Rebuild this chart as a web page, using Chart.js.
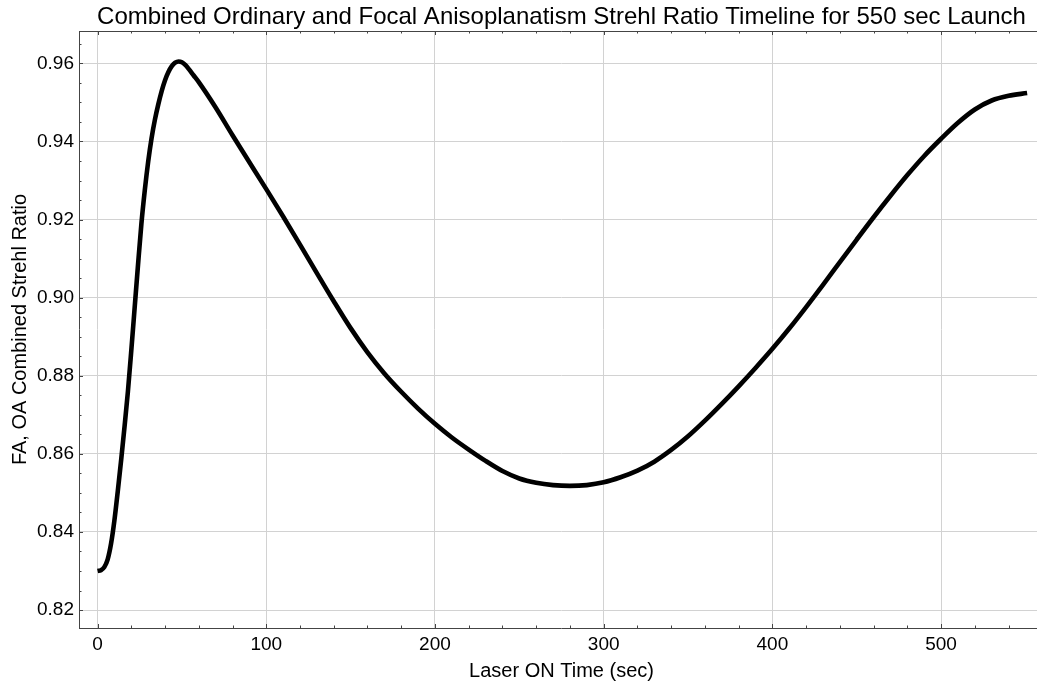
<!DOCTYPE html>
<html>
<head>
<meta charset="utf-8">
<script src="https://cdn.jsdelivr.net/npm/chart.js@4.4.0/dist/chart.umd.min.js"></script>
<style>
  html, body { margin: 0; padding: 0; background: #fff; overflow: hidden; }
  #wrap { width: 1044px; height: 683px; position: relative; }
  canvas { display: block; }
</style>
</head>
<body>
<div id="wrap"><canvas id="c" width="1044" height="683"></canvas></div>
<script>
// ---- Data ----
const titleText = "Combined Ordinary and Focal Anisoplanatism Strehl Ratio Timeline for 550 sec Launch";
const xAxisTitle = "Laser ON Time (sec)";
const yAxisTitle = "FA, OA Combined Strehl Ratio";

const timeSec = [0, 2, 4, 6, 8, 10, 12, 14, 16, 18, 20, 22, 24, 26, 28, 30, 32, 34, 36, 38, 40, 42, 44, 46, 48, 50, 52, 54, 57,
  60, 70, 80, 90, 100, 110, 120, 130, 140, 150, 160, 170, 180, 190, 200, 210, 220, 230, 240, 250, 260, 270, 280, 290, 300,
  310, 320, 330, 340, 350, 360, 370, 380, 390, 400, 410, 420, 430, 440, 450, 460, 470, 480, 490, 500, 510, 520, 530, 540, 551];
const strehl = [0.8300, 0.8302, 0.8310, 0.8330, 0.8370, 0.8430, 0.8505, 0.8585, 0.8670, 0.8760, 0.8865, 0.8975, 0.9085, 0.9190, 0.9275, 0.9348, 0.9408, 0.9456, 0.9495, 0.9529, 0.9557, 0.9578, 0.9593, 0.9602, 0.9605, 0.9603, 0.9596, 0.9586, 0.9569,
  0.9552, 0.9487, 0.9416, 0.9347, 0.9278, 0.9208, 0.9136, 0.9063, 0.8991, 0.8922, 0.8860, 0.8806, 0.8759, 0.8716, 0.8677, 0.8642, 0.8611, 0.8582, 0.8556, 0.8537, 0.8526, 0.8520, 0.8518, 0.8520, 0.8527,
  0.8540, 0.8557, 0.8580, 0.8610, 0.8645, 0.8685, 0.8728, 0.8773, 0.8820, 0.8869, 0.8921, 0.8976, 0.9033, 0.9091, 0.9149, 0.9206, 0.9261, 0.9314, 0.9363, 0.9407, 0.9448, 0.9482, 0.9505, 0.9517, 0.9524];

const xTicks = [0, 100, 200, 300, 400, 500];
const xMinorTicks = [20, 40, 60, 80, 120, 140, 160, 180, 220, 240, 260, 280, 320, 340, 360, 380, 420, 440, 460, 480, 520, 540];
const yTicks = [0.82, 0.84, 0.86, 0.88, 0.90, 0.92, 0.94, 0.96];
const yMinorStep = 0.005;
const xRange = [-11, 561];
const yRange = [0.8154, 0.9683];

// ---- Styling ----
const FONT = "'Liberation Sans', Arial, Helvetica, sans-serif";
const frameColor = '#444';
const gridColor = '#d2d2d2';

const points = timeSec.map((t, i) => ({ x: t, y: strehl[i] }));

const framePlugin = {
  id: 'frame',
  afterDraw(chart) {
    const ctx = chart.ctx;
    const a = chart.chartArea;
    const xs = chart.scales.x, ys = chart.scales.y;
    ctx.save();
    ctx.strokeStyle = frameColor;
    ctx.lineWidth = 1;
    ctx.beginPath();
    ctx.moveTo(a.left + 0.5, a.top);
    ctx.lineTo(a.left + 0.5, a.bottom);
    ctx.moveTo(a.left, a.bottom + 0.5);
    ctx.lineTo(a.right, a.bottom + 0.5);
    ctx.moveTo(a.left, a.top + 0.5);
    ctx.lineTo(a.right, a.top + 0.5);
    ctx.stroke();
    const majorLen = 4, minorLen = 2.5;
    ctx.beginPath();
    const xt = (v, len) => {
      const px = Math.round(xs.getPixelForValue(v)) + 0.5;
      ctx.moveTo(px, a.bottom); ctx.lineTo(px, a.bottom - len);
      ctx.moveTo(px, a.top); ctx.lineTo(px, a.top + len);
    };
    xTicks.forEach(v => xt(v, majorLen));
    xMinorTicks.forEach(v => xt(v, minorLen));
    const yt = (v, len) => {
      const py = Math.round(ys.getPixelForValue(v)) + 0.5;
      ctx.moveTo(a.left, py); ctx.lineTo(a.left + len, py);
    };
    yTicks.forEach(v => yt(v, majorLen));
    const start = Math.ceil(yRange[0] / yMinorStep) * yMinorStep;
    for (let k = 0; k < 100; k++) {
      const v = +(start + k * yMinorStep).toFixed(4);
      if (v > yRange[1]) break;
      if (yTicks.some(t => Math.abs(t - v) < 1e-6)) continue;
      yt(v, minorLen);
    }
    ctx.stroke();

    ctx.fillStyle = '#000';
    ctx.textAlign = 'center';
    ctx.textBaseline = 'alphabetic';
    const cx = (a.left + a.right) / 2;
    ctx.font = "24px " + FONT;
    ctx.fillText(titleText, cx, 24);
    ctx.font = "20px " + FONT;
    ctx.fillText(xAxisTitle, cx, 677);
    ctx.save();
    ctx.translate(26, (a.top + a.bottom) / 2);
    ctx.rotate(-Math.PI / 2);
    ctx.fillText(yAxisTitle, 0, 0);
    ctx.restore();
    ctx.restore();
  }
};

new Chart(document.getElementById('c'), {
  type: 'line',
  data: {
    datasets: [{
      data: points,
      borderColor: '#000',
      borderWidth: 4.6,
      pointRadius: 0,
      fill: false,
      cubicInterpolationMode: 'monotone'
    }]
  },
  options: {
    responsive: false,
    animation: false,
    devicePixelRatio: 1,
    layout: { padding: { top: 31, left: 0, right: 0, bottom: 0 }, autoPadding: false },
    plugins: { legend: { display: false }, title: { display: false }, tooltip: { enabled: false } },
    scales: {
      x: {
        type: 'linear',
        min: xRange[0], max: xRange[1],
        afterBuildTicks: s => { s.ticks = xTicks.map(v => ({ value: v })); },
        afterFit: s => { s.height = 55; s.paddingLeft = 0; s.paddingRight = 0; },
        grid: { color: gridColor, lineWidth: 1, drawTicks: false },
        border: { display: false },
        ticks: { color: '#000', font: { family: FONT, size: 19 }, padding: 5, maxRotation: 0, autoSkip: false,
                 callback: v => String(v) }
      },
      y: {
        type: 'linear',
        min: yRange[0], max: yRange[1],
        afterBuildTicks: s => { s.ticks = yTicks.map(v => ({ value: v })); },
        afterFit: s => { s.width = 79; s.paddingTop = 0; s.paddingBottom = 0; },
        grid: { color: gridColor, lineWidth: 1, drawTicks: false },
        border: { display: false },
        ticks: { color: '#000', font: { family: FONT, size: 19 }, padding: 5, autoSkip: false,
                 callback: v => v.toFixed(2) }
      }
    }
  },
  plugins: [framePlugin]
});
</script>
</body>
</html>
